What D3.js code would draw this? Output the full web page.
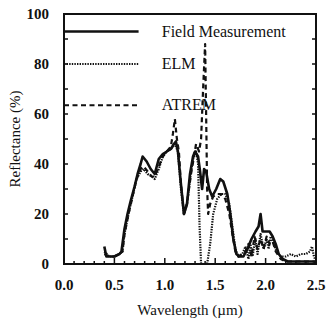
<!DOCTYPE html>
<html>
<head>
<meta charset="utf-8">
<script src="https://cdn.jsdelivr.net/npm/d3@7"></script>
<style>
  body { margin: 0; background: #fff; }
  text { font-family: "Liberation Serif", "Times New Roman", serif; fill: #111; }
</style>
</head>
<body>
<div id="chart"></div>
<script>
// Reflectance spectra: field measurement vs ELM vs ATREM retrievals
const xTicks = [0.0, 0.5, 1.0, 1.5, 2.0, 2.5]
const yTicks = [0, 20, 40, 60, 80, 100]

const fieldWl = [0.40,0.42,0.45,0.50,0.55,0.57,0.60,0.63,0.66,0.70,0.73,0.76,0.78,0.82,0.86,0.90,0.94,0.98,1.02,1.06,1.09,1.11,1.13,1.16,1.19,1.22,1.25,1.28,1.30,1.33,1.35,1.37,1.39,1.41,1.44,1.47,1.51,1.55,1.58,1.62,1.65,1.68,1.71,1.74,1.78,1.82,1.86,1.90,1.93,1.95,1.97,2.00,2.04,2.07,2.10,2.13,2.17,2.22,2.30,2.38,2.43,2.46,2.48,2.50]
const fieldR  = [7,3,3,3,4,5,14,20,25,31,36,40,43,41,38,36,42,44,45,46,48,49,45,32,20,24,36,43,45,43,37,30,38,37,30,27,30,34,33,28,20,10,4,3,3,6,10,13,15,20,13,13,13,11,8,4,2,1,1,1,1,1,1,0]

const elmWl = [0.40,0.45,0.50,0.55,0.58,0.60,0.64,0.68,0.72,0.76,0.79,0.83,0.87,0.90,0.94,0.98,1.02,1.06,1.10,1.13,1.16,1.19,1.22,1.26,1.29,1.31,1.33,1.345,1.36,1.40,1.42,1.45,1.48,1.52,1.56,1.60,1.64,1.67,1.70,1.73,1.77,1.80,1.83,1.85,1.87,1.90,1.92,1.95,1.98,2.01,2.03,2.05,2.08,2.11,2.15,2.20,2.25,2.30,2.35,2.40,2.44,2.46,2.48,2.50]
const elmR  = [5,3,3,4,5,12,20,27,34,37,38,36,35,34,38,43,45,46,48,45,30,20,24,37,44,45,40,15,0,0,0,8,20,26,28,28,24,15,6,3,4,7,2,8,3,10,4,12,6,10,6,11,8,5,3,3,4,3,4,4,5,7,3,1]

const atremWl = [0.40,0.45,0.50,0.55,0.58,0.60,0.64,0.68,0.72,0.76,0.79,0.83,0.87,0.90,0.94,0.98,1.02,1.06,1.08,1.10,1.12,1.14,1.16,1.19,1.22,1.26,1.29,1.31,1.34,1.36,1.38,1.40,1.41,1.42,1.43,1.45,1.48,1.52,1.56,1.60,1.64,1.67,1.70,1.73,1.77,1.80,1.83,1.86,1.89,1.92,1.95,1.98,2.01,2.04,2.07,2.10,2.15,2.20,2.30,2.40,2.50]
const atremR  = [4,3,3,4,5,12,20,27,34,38,39,37,35,35,39,43,45,47,52,58,50,45,32,20,24,36,43,48,45,50,70,88,60,30,20,24,27,28,28,26,20,12,5,3,4,5,8,3,11,6,10,6,11,8,9,5,2,1,1,1,1]

const legendNames = ['Field Measurement', 'ELM', 'ATREM']
const legendLevels = [93, 80, 63.5]

const W = 327, H = 324
const margin = { top: 14, right: 11, bottom: 60, left: 64 }

const svg = d3.select('#chart').append('svg')
  .attr('width', W)
  .attr('height', H)

const x = d3.scaleLinear().domain([0, 2.5]).range([margin.left, W - margin.right])
const y = d3.scaleLinear().domain([0, 100]).range([H - margin.bottom, margin.top])

const series = [
  { wl: fieldWl, r: fieldR, dash: null, width: 2.6 },
  { wl: elmWl, r: elmR, dash: '1.4,1.2', width: 2.2 },
  { wl: atremWl, r: atremR, dash: '5,3.5', width: 2.2 }
]

const line = d3.line()
  .x(d => x(d[0]))
  .y(d => y(d[1]))

const plot = svg.append('g')

series.forEach(s => {
  plot.append('path')
    .datum(d3.zip(s.wl, s.r))
    .attr('d', line)
    .attr('fill', 'none')
    .attr('stroke', '#111')
    .attr('stroke-width', s.width)
    .attr('stroke-linejoin', 'round')
    .attr('stroke-dasharray', s.dash)
})

// Legend
const legend = svg.append('g')
series.forEach((s, i) => {
  legend.append('line')
    .attr('x1', x(0)).attr('x2', x(0.74))
    .attr('y1', y(legendLevels[i])).attr('y2', y(legendLevels[i]))
    .attr('stroke', '#111')
    .attr('stroke-width', s.width)
    .attr('stroke-dasharray', s.dash)
  legend.append('text')
    .attr('x', x(0.97))
    .attr('y', y(legendLevels[i]) + 5)
    .attr('font-size', 16)
    .text(legendNames[i])
})

// Frame
svg.append('rect')
  .attr('x', x(0)).attr('y', y(100))
  .attr('width', x(2.5) - x(0)).attr('height', y(0) - y(100))
  .attr('fill', 'none')
  .attr('stroke', '#111')
  .attr('stroke-width', 2)

// Inward ticks
const ticks = svg.append('g').attr('stroke', '#111').attr('stroke-width', 1.5)
d3.range(0, 101, 10).forEach(v => {
  ticks.append('line')
    .attr('x1', x(0)).attr('x2', x(0) + 4)
    .attr('y1', y(v)).attr('y2', y(v))
  ticks.append('line')
    .attr('x1', x(2.5)).attr('x2', x(2.5) - 4)
    .attr('y1', y(v)).attr('y2', y(v))
})
d3.range(0, 26).forEach(i => {
  const v = i / 10
  const len = i % 5 === 0 ? 6 : 3
  ticks.append('line')
    .attr('x1', x(v)).attr('x2', x(v))
    .attr('y1', y(0)).attr('y2', y(0) - len)
})

// Tick labels
svg.append('g').selectAll('text')
  .data(xTicks)
  .join('text')
  .attr('x', d => x(d))
  .attr('y', y(0) + 26)
  .attr('text-anchor', 'middle')
  .attr('font-size', 15)
  .attr('font-weight', 'bold')
  .text(d => d.toFixed(1))

svg.append('g').selectAll('text')
  .data(yTicks)
  .join('text')
  .attr('x', x(0) - 15)
  .attr('y', d => y(d) + 5)
  .attr('text-anchor', 'end')
  .attr('font-size', 15)
  .attr('font-weight', 'bold')
  .text(d => d)

// Axis titles
svg.append('text')
  .attr('x', (x(0) + x(2.5)) / 2)
  .attr('y', 315)
  .attr('text-anchor', 'middle')
  .attr('font-size', 15)
  .text('Wavelength (\u00b5m)')

svg.append('text')
  .attr('transform', `translate(20, ${(y(0) + y(100)) / 2}) rotate(-90)`)
  .attr('text-anchor', 'middle')
  .attr('font-size', 15)
  .text('Reflectance (%)')
</script>
</body>
</html>
